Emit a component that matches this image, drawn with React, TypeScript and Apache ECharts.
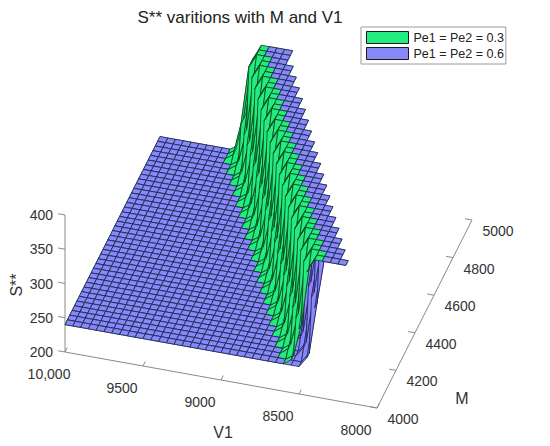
import React, { useEffect, useRef } from 'react';
import * as echarts from 'echarts';

// ---------------- data ----------------
const TITLE = 'S** varitions with M and V1';
const SERIES_NAMES = ['Pe1 = Pe2 = 0.3', 'Pe1 = Pe2 = 0.6'];

const V1_TICKS = [10000, 9500, 9000, 8500, 8000];
const V1_TICK_LABELS = ['10,000', '9500', '9000', '8500', '8000'];
const M_TICKS = [4000, 4200, 4400, 4600, 4800, 5000];
const S_TICKS = [200, 250, 300, 350, 400];

const V1_RANGE = [8000, 10000];
const V1_STEP = 50;
const M_RANGE = [4000, 5000];
const M_STEP = 25;
const S_RANGE = [200, 400];

// lowest V1 for which S** is defined, for each M row (M = 4000, 4025, ..., 5000)
const ROW_END_V1 = [
  8200, 8200, 8250, 8250, 8300, 8300, 8350, 8350, 8400, 8400,
  8450, 8450, 8500, 8500, 8550, 8550, 8600, 8600, 8650, 8650,
  8700, 8700, 8750, 8750, 8800, 8800, 8850, 8850, 8900, 8900,
  8950, 8950, 9000, 9000, 9050, 9050, 9100, 9100, 9150, 9150, 9150,
];
// S** level of the flat part of both surfaces
const FLAT_S = 240;
// S** values starting at the row's lowest V1 and moving to higher V1 (capped at 400)
const GREEN_PROFILE = [400, 400, 400, 400, 400, 380, 295, 248]; // Pe = 0.3
const BLUE_PROFILE = [400, 400, 400, 400, 330, 255]; // Pe = 0.6

// ---------------- styles / layout ----------------
const GREEN_FACE = '#22ec80';
const GREEN_EDGE = '#0b4419';
const BLUE_FACE = '#8888fb';
const BLUE_EDGE = '#22225e';
const AXIS_COLOR = '#8a8a8a';
const TEXT_COLOR = '#333333';
const FONT = 'Liberation Sans, Arial, Helvetica, sans-serif';

// projected box: screen position of (V1=10000, M=4000, S=200) and axis vectors
const BOX = { ox: 65, oy: 352, ux: 312, uy: 56, wx: 95, wy: -188, hy: -137 };

function norm(v: number, m: number, s: number) {
  const u = (V1_RANGE[1] - v) / (V1_RANGE[1] - V1_RANGE[0]);
  const w = (m - M_RANGE[0]) / (M_RANGE[1] - M_RANGE[0]);
  const h = (s - S_RANGE[0]) / (S_RANGE[1] - S_RANGE[0]);
  return [u, w, h];
}
function project(v: number, m: number, s: number): number[] {
  const [u, w, h] = norm(v, m, s);
  return [BOX.ox + u * BOX.ux + w * BOX.wx, BOX.oy + u * BOX.uy + w * BOX.wy + h * BOX.hy];
}
function depth(v: number, m: number, s: number) {
  const [u, w, h] = norm(v, m, s);
  return -12920 * u + 43366 * w - 17274 * h;
}

const V1_GRID: number[] = [];
for (let v = V1_RANGE[0]; v <= V1_RANGE[1]; v += V1_STEP) V1_GRID.push(v);
const M_GRID: number[] = [];
for (let m = M_RANGE[0]; m <= M_RANGE[1]; m += M_STEP) M_GRID.push(m);

function surfaceValue(profile: number[], row: number, v: number): number | null {
  const end = ROW_END_V1[row];
  if (v < end) return null;
  const k = Math.round((v - end) / V1_STEP);
  return k < profile.length ? profile[k] : FLAT_S;
}

type Quad = { pts: number[][]; depth: number; series: number; z2: number };

function buildQuads(profile: number[], series: number): Quad[] {
  const out: Quad[] = [];
  for (let i = 0; i < M_GRID.length - 1; i++) {
    for (let j = 0; j < V1_GRID.length - 1; j++) {
      const idx = [
        [i, j],
        [i, j + 1],
        [i + 1, j + 1],
        [i + 1, j],
      ];
      const pts: number[][] = [];
      let ok = true;
      for (const [r, c] of idx) {
        const s = surfaceValue(profile, r, V1_GRID[c]);
        if (s === null) {
          ok = false;
          break;
        }
        pts.push([V1_GRID[c], M_GRID[r], s]);
      }
      if (!ok) continue;
      const cv = pts.reduce((a, p) => a + p[0], 0) / 4;
      const cm = pts.reduce((a, p) => a + p[1], 0) / 4;
      const cs = pts.reduce((a, p) => a + p[2], 0) / 4;
      out.push({ pts, depth: depth(cv, cm, cs), series, z2: 0 });
    }
  }
  return out;
}

const greenQuads = buildQuads(GREEN_PROFILE, 0);
const blueQuads = buildQuads(BLUE_PROFILE, 1);
const allQuads = [...greenQuads, ...blueQuads].sort(
  (a, b) => b.depth - a.depth || a.series - b.series
);
allQuads.forEach((q, k) => (q.z2 = k + 10));

function surfaceSeries(name: string, quads: Quad[], face: string, edge: string) {
  return {
    type: 'custom',
    name,
    coordinateSystem: 'cartesian2d',
    silent: true,
    z: 2,
    itemStyle: { color: face, borderColor: edge, borderWidth: 1 },
    data: quads.map((q) => {
      const p = project(
        q.pts.reduce((a, c) => a + c[0], 0) / 4,
        q.pts.reduce((a, c) => a + c[1], 0) / 4,
        q.pts.reduce((a, c) => a + c[2], 0) / 4
      );
      return [p[0], p[1]];
    }),
    renderItem: (params: any, api: any) => {
      const q = quads[params.dataIndex];
      return {
        type: 'polygon',
        z2: q.z2,
        shape: { points: q.pts.map((p) => api.coord(project(p[0], p[1], p[2]))) },
        style: { fill: face, stroke: edge, lineWidth: 0.8 },
      };
    },
  };
}

function axesSeries() {
  return {
    type: 'custom',
    coordinateSystem: 'cartesian2d',
    silent: true,
    z: 1,
    data: [[0, 0]],
    renderItem: (_params: any, api: any) => {
      const children: any[] = [];
      const line = (a: number[], b: number[]) => {
        const pa = api.coord(a);
        const pb = api.coord(b);
        children.push({
          type: 'line',
          shape: { x1: pa[0], y1: pa[1], x2: pb[0], y2: pb[1] },
          style: { stroke: AXIS_COLOR, lineWidth: 1 },
        });
      };
      const text = (p: number[], str: string, align: string, size: number, rotation = 0) => {
        const c = api.coord(p);
        children.push({
          type: 'text',
          x: c[0],
          y: c[1],
          rotation,
          style: {
            text: str,
            fill: TEXT_COLOR,
            fontSize: size,
            fontFamily: FONT,
            align,
            verticalAlign: 'middle',
          },
        });
      };
      const uLen = Math.hypot(BOX.ux, BOX.uy);
      const wLen = Math.hypot(BOX.wx, BOX.wy);
      const uDir = [BOX.ux / uLen, BOX.uy / uLen];
      const wDir = [BOX.wx / wLen, BOX.wy / wLen];

      // S** axis (vertical, at V1 = 10000, M = 4000)
      line(project(V1_RANGE[1], M_RANGE[0], S_RANGE[0]), project(V1_RANGE[1], M_RANGE[0], S_RANGE[1]));
      S_TICKS.forEach((s) => {
        const p = project(V1_RANGE[1], M_RANGE[0], s);
        line(p, [p[0] - 7 * uDir[0], p[1] - 7 * uDir[1]]);
        text([p[0] - 12, p[1]], String(s), 'right', 14);
      });
      // V1 axis (at M = 4000, S = 200)
      line(project(V1_RANGE[1], M_RANGE[0], S_RANGE[0]), project(V1_RANGE[0], M_RANGE[0], S_RANGE[0]));
      V1_TICKS.forEach((v, k) => {
        const p = project(v, M_RANGE[0], S_RANGE[0]);
        line(p, [p[0] + 5 * wDir[0], p[1] + 5 * wDir[1]]);
        text([p[0] - (k === 0 ? 16 : 21), p[1] + 22], V1_TICK_LABELS[k], 'center', 14);
      });
      // M axis (at V1 = 8000, S = 200)
      line(project(V1_RANGE[0], M_RANGE[0], S_RANGE[0]), project(V1_RANGE[0], M_RANGE[1], S_RANGE[0]));
      M_TICKS.forEach((m) => {
        const p = project(V1_RANGE[0], m, S_RANGE[0]);
        line(p, [p[0] - 7 * uDir[0], p[1] - 7 * uDir[1]]);
        text([p[0] + 26, p[1] + 11], String(m), 'center', 14);
      });
      // axis names
      text([16, 285], 'S**', 'center', 16, Math.PI / 2);
      text([223, 432], 'V1', 'center', 16);
      text([462, 398], 'M', 'center', 16);
      return { type: 'group', children };
    },
  };
}

const option: any = {
  animation: false,
  backgroundColor: '#ffffff',
  title: {
    text: TITLE,
    left: 240,
    textAlign: 'center',
    top: 9,
    padding: 0,
    textStyle: { fontSize: 17, fontWeight: 'normal', color: '#222', fontFamily: FONT },
  },
  legend: {
    orient: 'vertical',
    left: 361,
    top: 27,
    padding: [4, 2, 4, 5],
    itemWidth: 42,
    itemHeight: 12,
    itemGap: 3,
    icon: 'rect',
    borderColor: '#9a9a9a',
    borderWidth: 1,
    backgroundColor: '#ffffff',
    selectedMode: false,
    textStyle: { fontSize: 12.5, color: '#222', fontFamily: FONT },
    data: [
      { name: SERIES_NAMES[0], itemStyle: { color: GREEN_FACE, borderColor: '#1a1a1a', borderWidth: 1 } },
      { name: SERIES_NAMES[1], itemStyle: { color: BLUE_FACE, borderColor: '#1a1a1a', borderWidth: 1 } },
    ],
  },
  grid: { left: 0, right: 0, top: 0, bottom: 0 },
  xAxis: { type: 'value', min: 0, max: 550, show: false },
  yAxis: { type: 'value', min: 0, max: 446, inverse: true, show: false },
  series: [
    axesSeries(),
    surfaceSeries(SERIES_NAMES[0], greenQuads, GREEN_FACE, GREEN_EDGE),
    surfaceSeries(SERIES_NAMES[1], blueQuads, BLUE_FACE, BLUE_EDGE),
  ],
};

export default function App() {
  const ref = useRef<HTMLDivElement>(null);
  useEffect(() => {
    if (!ref.current) return;
    const chart = echarts.init(ref.current, null, { renderer: 'svg' });
    chart.setOption(option);
    return () => chart.dispose();
  }, []);
  return (
    <div
      ref={ref}
      style={{ position: 'fixed', left: 0, top: 0, width: 550, height: 446, background: '#fff' }}
    />
  );
}
